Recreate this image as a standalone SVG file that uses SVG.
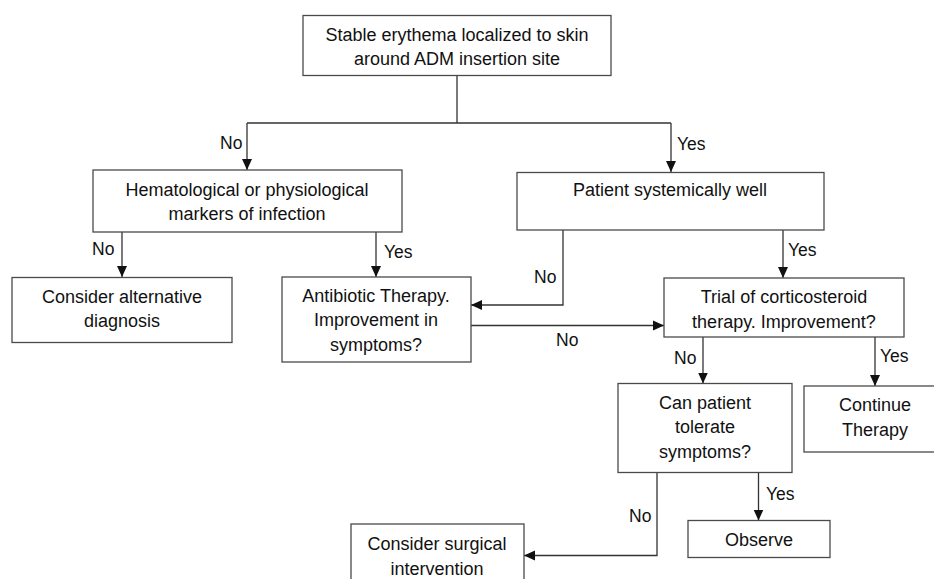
<svg xmlns="http://www.w3.org/2000/svg" width="934" height="579" viewBox="0 0 934 579">
<style>
.box{fill:#fff;stroke:#4a4a4a;stroke-width:1.3}
.t{font-family:"Liberation Sans",Arial,sans-serif;font-size:18px;fill:#111;text-anchor:middle}
.l{font-family:"Liberation Sans",Arial,sans-serif;font-size:17.5px;fill:#111}
.c{fill:none;stroke:#333;stroke-width:1.3}
</style>
<defs>
<marker id="ah" markerUnits="userSpaceOnUse" markerWidth="12" markerHeight="12" viewBox="0 0 12 12" refX="11" refY="6" orient="auto">
<path d="M0,1 L11,6 L0,11 Z" fill="#111"/>
</marker>
</defs>
<g id="connectors">
<path class="c" d="M457,75 V123 M247,123 H671"/>
<path class="c" d="M247,123 V170" marker-end="url(#ah)"/>
<path class="c" d="M671,123 V172" marker-end="url(#ah)"/>
<path class="c" d="M122,232 V277" marker-end="url(#ah)"/>
<path class="c" d="M376,232 V277" marker-end="url(#ah)"/>
<path class="c" d="M563,230 V305 H471" marker-end="url(#ah)"/>
<path class="c" d="M783,230 V278" marker-end="url(#ah)"/>
<path class="c" d="M471,325.5 H664" marker-end="url(#ah)"/>
<path class="c" d="M703,337 V383.5" marker-end="url(#ah)"/>
<path class="c" d="M875,337 V386" marker-end="url(#ah)"/>
<path class="c" d="M657,473 V555.5 H524" marker-end="url(#ah)"/>
<path class="c" d="M758.5,473 V520.5" marker-end="url(#ah)"/>
<text class="l" x="220" y="149">No</text>
<text class="l" x="677" y="150">Yes</text>
<text class="l" x="92" y="255">No</text>
<text class="l" x="384" y="258">Yes</text>
<text class="l" x="534" y="283">No</text>
<text class="l" x="788" y="256">Yes</text>
<text class="l" x="556" y="346">No</text>
<text class="l" x="674" y="364">No</text>
<text class="l" x="880" y="362">Yes</text>
<text class="l" x="629" y="522">No</text>
<text class="l" x="766" y="500">Yes</text>
</g>
<g id="n1">
<rect class="box" x="303" y="15.5" width="308" height="60"/>
<text class="t" x="457" y="41">Stable erythema localized to skin</text>
<text class="t" x="457" y="65">around ADM insertion site</text>
</g>
<g id="n2">
<rect class="box" x="93" y="170" width="309" height="62"/>
<text class="t" x="247" y="196">Hematological or physiological</text>
<text class="t" x="247" y="220">markers of infection</text>
</g>
<g id="n3">
<rect class="box" x="517" y="172.5" width="307" height="57.5"/>
<text class="t" x="670" y="196">Patient systemically well</text>
</g>
<g id="n4">
<rect class="box" x="12" y="277.5" width="220" height="65"/>
<text class="t" x="122" y="303">Consider alternative</text>
<text class="t" x="122" y="327">diagnosis</text>
</g>
<g id="n5">
<rect class="box" x="282" y="277" width="189" height="85"/>
<text class="t" x="376" y="302">Antibiotic Therapy.</text>
<text class="t" x="376" y="326">Improvement in</text>
<text class="t" x="376" y="351">symptoms?</text>
</g>
<g id="n6">
<rect class="box" x="664" y="278" width="240" height="59"/>
<text class="t" x="784" y="303">Trial of corticosteroid</text>
<text class="t" x="784" y="328">therapy. Improvement?</text>
</g>
<g id="n7">
<rect class="box" x="618" y="383.5" width="174" height="89"/>
<text class="t" x="705" y="409">Can patient</text>
<text class="t" x="705" y="433">tolerate</text>
<text class="t" x="705" y="458">symptoms?</text>
</g>
<g id="n8">
<rect class="box" x="804" y="386" width="135" height="66"/>
<text class="t" x="875" y="411">Continue</text>
<text class="t" x="875" y="436">Therapy</text>
</g>
<g id="n9">
<rect class="box" x="688" y="520.5" width="142" height="37"/>
<text class="t" x="759" y="546">Observe</text>
</g>
<g id="n10">
<rect class="box" x="351" y="524" width="173" height="70"/>
<text class="t" x="437" y="550">Consider surgical</text>
<text class="t" x="437" y="575">intervention</text>
</g>
</svg>
